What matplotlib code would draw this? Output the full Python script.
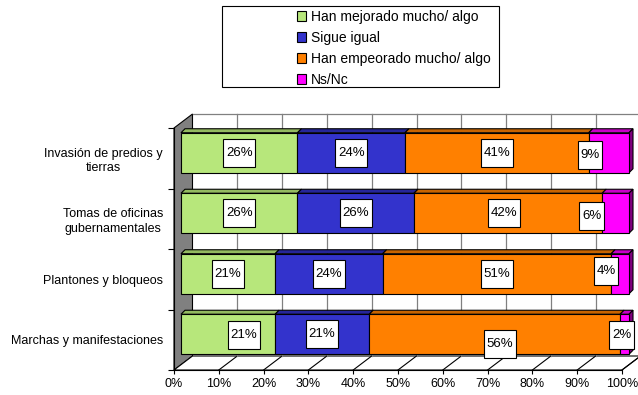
import numpy as np
import matplotlib
matplotlib.use("Agg")
import matplotlib.pyplot as plt
from matplotlib.patches import Polygon, Rectangle, Patch
from matplotlib.path import Path

plt.rcParams['font.family'] = ['Liberation Sans', 'DejaVu Sans']

# data (top row first, as in the picture)
categories = ['Invasión de predios y\ntierras',
              'Tomas de oficinas\ngubernamentales',
              'Plantones y bloqueos',
              'Marchas y manifestaciones']
series_names = ['Han mejorado mucho/ algo', 'Sigue igual',
                'Han empeorado mucho/ algo', 'Ns/Nc']
mejorado = [26, 26, 21, 21]
igual = [24, 26, 24, 21]
empeorado = [41, 42, 51, 56]
nsnc = [9, 6, 4, 2]
x_ticks = [0, 10, 20, 30, 40, 50, 60, 70, 80, 90, 100]

# styles
face_colors = ['#B7E77B', '#3333CC', '#FF8000', '#FF00FF']
top_colors = ['#93BA60', '#262699', '#C86400', '#C800C8']
end_colors = ['#93BA60', '#262699', '#C86400', '#800080']

# depth of the 3D box (px converted to data units)
px_per_pct = 448 / 100
px_per_row = 60.5
wall_dx, wall_dy = 18.5 / px_per_pct, 14 / px_per_row
bar_ox, bar_oy = 7 / px_per_pct, 5.5 / px_per_row
bar_dx, bar_dy = 4 / px_per_pct, 4 / px_per_row
bar_h = 40 / px_per_row

# label nudges in pixels (dx right, dy down) for labels that Excel moved
nudges = {(0, 3): (-19, 2), (1, 3): (-24, 3), (1, 2): (-4, 0),
          (2, 3): (-14, -3), (3, 0): (16, 1), (3, 2): (5, 10), (3, 3): (-3, 1)}

W, H = 638, 395
fig = plt.figure(figsize=(W / 100, H / 100), dpi=100)
ax = fig.add_axes([174 / W, (H - 370) / H, 448 / W, 242 / H])
ax.set_xlim(0, 100)
ax.set_ylim(-0.5, 3.5)
ax.patch.set_visible(False)

n = len(categories)
ypos = np.arange(n)[::-1]  # top row = highest y

y0, y1 = -0.5, n - 0.5
# back wall (left)
ax.add_patch(Polygon([(0, y0), (wall_dx, y0 + wall_dy), (wall_dx, y1 + wall_dy), (0, y1)],
                     closed=True, facecolor='#808080', edgecolor='black', lw=0.8,
                     clip_on=False, zorder=1))
# floor
ax.add_patch(Polygon([(0, y0), (100, y0), (100 + wall_dx, y0 + wall_dy), (wall_dx, y0 + wall_dy)],
                     closed=True, facecolor='white', edgecolor='black', lw=0.8,
                     clip_on=False, zorder=1))
for t in x_ticks[1:]:
    ax.plot([t, t + wall_dx], [y0, y0 + wall_dy], color='black', lw=0.8,
            clip_on=False, zorder=1.1)
    ax.plot([t + wall_dx, t + wall_dx], [y0 + wall_dy, y1 + wall_dy], color='#808080',
            lw=0.9, clip_on=False, zorder=1.1)
# top line of the back plane
ax.plot([wall_dx, 100 + wall_dx], [y1 + wall_dy, y1 + wall_dy], color='#808080', lw=0.9,
        clip_on=False, zorder=1.1)

# bars
data = np.array([mejorado, igual, empeorado, nsnc])  # series x category
cum = np.zeros(n)
for s in range(len(series_names)):
    vals = data[s]
    for i in range(n):
        left = cum[i] + bar_ox
        right = left + vals[i]
        yb = ypos[i] + bar_oy - bar_h / 2
        yt = yb + bar_h
        ax.barh(ypos[i] + bar_oy, vals[i], left=left, height=bar_h,
                color=face_colors[s], edgecolor='black', lw=0.8, zorder=3, clip_on=False)
        ax.add_patch(Polygon([(left, yt), (right, yt), (right + bar_dx, yt + bar_dy),
                              (left + bar_dx, yt + bar_dy)], closed=True,
                             facecolor=top_colors[s], edgecolor='black', lw=0.8,
                             zorder=2.9, clip_on=False))
        if s == len(series_names) - 1:
            ax.add_patch(Polygon([(right, yb), (right + bar_dx, yb + bar_dy),
                                  (right + bar_dx, yt + bar_dy), (right, yt)], closed=True,
                                 facecolor=end_colors[s], edgecolor='black', lw=0.8,
                                 zorder=2.9, clip_on=False))
    cum += vals


def label_box(x0, y0, width, height, mutation_size):
    px, py = 0.2 * mutation_size, 0.6 * mutation_size
    return Path([(x0 - px, y0 - py), (x0 + width + px, y0 - py),
                 (x0 + width + px, y0 + height + py), (x0 - px, y0 + height + py),
                 (x0 - px, y0 - py)], closed=True)


cum = np.zeros(n)
for s in range(len(series_names)):
    vals = data[s]
    for i in range(n):
        xc = cum[i] + vals[i] / 2 + bar_ox
        yc = ypos[i] + bar_oy
        dx, dy = nudges.get((i, s), (0, 0))
        ax.annotate(f'{vals[i]}%', (xc, yc), xytext=(dx * 0.72, -dy * 0.72),
                    textcoords='offset points', ha='center', va='center', fontsize=9.5,
                    zorder=5, annotation_clip=False,
                    bbox=dict(boxstyle=label_box, facecolor='white', edgecolor='black', lw=0.8))
    cum += vals

# axes
for sp in ['top', 'right']:
    ax.spines[sp].set_visible(False)
ax.spines['left'].set_linewidth(0.8)
ax.spines['bottom'].set_linewidth(0.8)
ax.spines['left'].set_zorder(4)
ax.spines['bottom'].set_zorder(4)
ax.set_xticks(x_ticks)
ax.set_xticklabels([f'{t}%' for t in x_ticks], fontsize=9)
ax.tick_params(axis='x', length=3, width=0.8, pad=3)
ax.set_yticks(np.arange(n + 1) - 0.5)
ax.set_yticklabels([])
ax.tick_params(axis='y', which='major', length=4, width=0.8)
ax.set_yticks(ypos, minor=True)
ax.set_yticklabels(categories, minor=True, fontsize=9, multialignment='center',
                   linespacing=1.3)
ax.tick_params(axis='y', which='minor', length=0, pad=8)

# legend in a wide box
fig.add_artist(Rectangle((222 / W, (H - 87) / H), 277 / W, 81 / H, transform=fig.transFigure,
                         facecolor='white', edgecolor='black', lw=0.8))
handles = [Patch(facecolor=c, edgecolor='black', lw=0.8) for c in face_colors]
fig.legend(handles, series_names, loc='upper left', bbox_to_anchor=(297 / W, 1 - 10 / H),
           frameon=False, fontsize=10, handlelength=0.65, handleheight=0.65,
           handletextpad=0.35, labelspacing=0.5, borderpad=0, borderaxespad=0)

fig.savefig('out.png', dpi=100)
